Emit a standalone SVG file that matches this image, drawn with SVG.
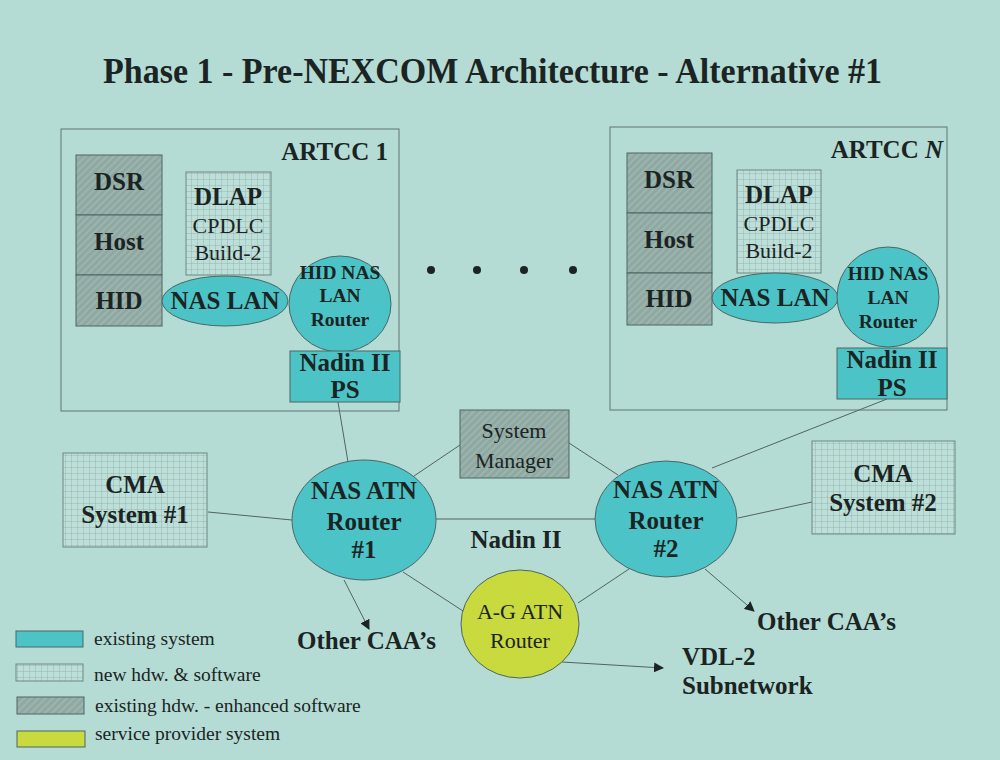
<svg xmlns="http://www.w3.org/2000/svg" width="1000" height="760" viewBox="0 0 1000 760">
<defs>
<pattern id="grid" width="6" height="6" patternUnits="userSpaceOnUse">
<rect width="6" height="6" fill="#bcdfd9"/>
<path d="M6 0V6H0" fill="none" stroke="#8aa39d" stroke-width="0.7"/>
</pattern>
<pattern id="hatch" width="5" height="5" patternUnits="userSpaceOnUse" patternTransform="rotate(45)">
<rect width="5" height="5" fill="#8fa8a2"/>
<line x1="1" y1="0" x2="1" y2="5" stroke="#a2b9b3" stroke-width="1.4"/>
</pattern>
<marker id="arr" viewBox="0 0 10 10" refX="9" refY="5" markerWidth="10" markerHeight="10" markerUnits="userSpaceOnUse" orient="auto">
<path d="M0 0L10 5L0 10Z" fill="#1b2423"/>
</marker>
</defs>
<style>
text{font-family:"Liberation Serif","Times New Roman",serif;fill:#1b2423}
.b{font-weight:bold;font-size:25px}
.r{font-size:22px}
.s{font-weight:bold;font-size:19.5px}
.m{text-anchor:middle}
.lg{font-size:19.5px}
.frame{fill:none;stroke:#5f7571;stroke-width:1}
.cyan{fill:#4cc4c7;stroke:#4c6663;stroke-width:1}
.hat{fill:url(#hatch);stroke:#4c6663;stroke-width:1}
.grd{fill:url(#grid);stroke:#6f8581;stroke-width:1}
.yel{fill:#c8da3e;stroke:#4c6663;stroke-width:1}
.ln{stroke:#52635f;stroke-width:1;fill:none}
</style>
<rect width="1000" height="760" fill="#b4dcd5"/>
<text id="title" x="103" y="83" font-size="35" font-weight="bold" textLength="779" lengthAdjust="spacingAndGlyphs">Phase 1 - Pre-NEXCOM Architecture - Alternative #1</text>

<g id="connectors">
<line class="ln" x1="338" y1="402" x2="348" y2="462"/>
<line class="ln" x1="887" y1="399" x2="712" y2="468"/>
<line class="ln" x1="414" y1="476" x2="460" y2="445"/>
<line class="ln" x1="569" y1="443" x2="618" y2="475"/>
<line class="ln" x1="436" y1="519" x2="595" y2="519"/>
<line class="ln" x1="208" y1="512" x2="292" y2="520"/>
<line class="ln" x1="738" y1="518" x2="812" y2="502"/>
<line class="ln" x1="403" y1="572" x2="463" y2="611"/>
<line class="ln" x1="578" y1="603" x2="629" y2="569"/>
<line class="ln" x1="344" y1="580" x2="369" y2="629" marker-end="url(#arr)"/>
<line class="ln" x1="705" y1="569" x2="754" y2="611" marker-end="url(#arr)"/>
<line class="ln" x1="562" y1="662" x2="663" y2="668" marker-end="url(#arr)"/>
</g>

<g id="artcc1">
<rect class="frame" x="61" y="129" width="338" height="282"/>
<text class="b" x="388" y="160" text-anchor="end">ARTCC 1</text>
</g>
<g id="dsr1"><rect class="hat" x="76" y="155" width="86" height="60"/><text class="b m" x="119" y="190">DSR</text></g>
<g id="host1"><rect class="hat" x="76" y="215" width="86" height="60"/><text class="b m" x="119" y="250">Host</text></g>
<g id="hid1"><rect class="hat" x="76" y="275" width="86" height="51"/><text class="b m" x="119" y="309">HID</text></g>
<g id="dlap1"><rect class="grd" x="186" y="172" width="85" height="103"/>
<text class="b m" x="228" y="205">DLAP</text><text class="r m" x="228" y="233">CPDLC</text><text class="r m" x="228" y="260">Build-2</text></g>
<g id="naslan1"><ellipse class="cyan" cx="225" cy="301" rx="63" ry="25"/><text class="b m" x="225" y="309">NAS LAN</text></g>
<g id="hidrouter1"><ellipse class="cyan" cx="340" cy="304" rx="51" ry="48"/>
<text class="s m" x="340" y="279">HID NAS</text><text class="s m" x="340" y="302">LAN</text><text class="s m" x="340" y="326">Router</text></g>
<g id="nadinps1"><rect class="cyan" x="290" y="351" width="110" height="51"/>
<text class="b m" x="345" y="371">Nadin II</text><text class="b m" x="345" y="398">PS</text></g>

<g id="artccN">
<rect class="frame" x="610" y="127" width="337" height="283"/>
<text class="b" x="943" y="158" text-anchor="end">ARTCC <tspan font-style="italic">N</tspan></text>
</g>
<g id="dsrN"><rect class="hat" x="627" y="153" width="85" height="60"/><text class="b m" x="669" y="188">DSR</text></g>
<g id="hostN"><rect class="hat" x="627" y="213" width="85" height="60"/><text class="b m" x="669" y="248">Host</text></g>
<g id="hidN"><rect class="hat" x="627" y="273" width="85" height="52"/><text class="b m" x="669" y="307">HID</text></g>
<g id="dlapN"><rect class="grd" x="737" y="170" width="84" height="103"/>
<text class="b m" x="779" y="203">DLAP</text><text class="r m" x="779" y="231">CPDLC</text><text class="r m" x="779" y="258">Build-2</text></g>
<g id="naslanN"><ellipse class="cyan" cx="775" cy="298" rx="63" ry="25"/><text class="b m" x="775" y="306">NAS LAN</text></g>
<g id="hidrouterN"><ellipse class="cyan" cx="888" cy="297" rx="51" ry="50"/>
<text class="s m" x="888" y="280">HID NAS</text><text class="s m" x="888" y="304">LAN</text><text class="s m" x="888" y="328">Router</text></g>
<g id="nadinpsN"><rect class="cyan" x="837" y="348" width="110" height="51"/>
<text class="b m" x="892" y="368">Nadin II</text><text class="b m" x="892" y="396">PS</text></g>

<g id="dots" fill="#1b2423">
<circle cx="431" cy="270" r="4"/><circle cx="477" cy="270" r="4"/><circle cx="524" cy="270" r="4"/><circle cx="573" cy="270" r="4"/>
</g>

<g id="sysmgr"><rect class="hat" x="460" y="410" width="109" height="68"/>
<text class="r m" x="514" y="438" font-size="24">System</text><text class="r m" x="514" y="468" font-size="24">Manager</text></g>
<g id="router1"><ellipse class="cyan" cx="364" cy="520" rx="72" ry="60"/>
<text class="b m" x="364" y="499">NAS ATN</text><text class="b m" x="364" y="530">Router</text><text class="b m" x="364" y="558">#1</text></g>
<g id="router2"><ellipse class="cyan" cx="666" cy="519" rx="71" ry="58"/>
<text class="b m" x="666" y="498">NAS ATN</text><text class="b m" x="666" y="529">Router</text><text class="b m" x="666" y="557">#2</text></g>
<g id="nadin2"><text class="b m" x="516" y="548">Nadin II</text></g>
<g id="agrouter"><ellipse class="yel" cx="520" cy="624" rx="59" ry="54"/>
<text class="r m" x="520" y="619" font-size="24">A-G ATN</text><text class="r m" x="520" y="648" font-size="24">Router</text></g>
<g id="cma1"><rect class="grd" x="63" y="453" width="144" height="94"/>
<text class="b m" x="135" y="493">CMA</text><text class="b m" x="135" y="523">System #1</text></g>
<g id="cma2"><rect class="grd" x="812" y="441" width="143" height="93"/>
<text class="b m" x="883" y="482">CMA</text><text class="b m" x="883" y="511">System #2</text></g>
<g id="caa1"><text class="b" x="297" y="649">Other CAA’s</text></g>
<g id="caa2"><text class="b" x="757" y="630">Other CAA’s</text></g>
<g id="vdl2"><text class="b" x="682" y="665">VDL-2</text><text class="b" x="682" y="694">Subnetwork</text></g>

<g id="legend">
<rect class="cyan" x="16" y="631" width="67" height="16"/>
<text class="lg" x="94" y="645">existing system</text>
<rect class="grd" x="16" y="664" width="67" height="17"/>
<text class="lg" x="94" y="681">new hdw. &amp; software</text>
<rect class="hat" x="17" y="697" width="67" height="17"/>
<text class="lg" x="95" y="712">existing hdw. - enhanced software</text>
<rect class="yel" x="17" y="731" width="68" height="16"/>
<text class="lg" x="95" y="740">service provider system</text>
</g>
</svg>
